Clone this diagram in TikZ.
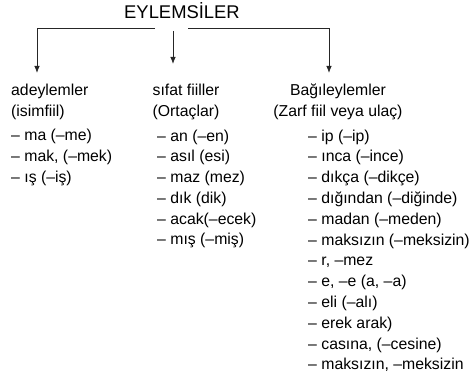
\documentclass[tikz,border=0pt]{standalone}
\usepackage{fontspec}
\setmainfont{Liberation Sans}
\usetikzlibrary{arrows.meta}
\tikzstyle{line} = [draw, -{Latex[length=7pt,width=5.5pt]}, line width=0.8pt, black!85]
\tikzstyle{txt} = [inner sep=0pt, font=\fontsize{15.8}{20.8}\selectfont]

\begin{document}
\begin{tikzpicture}[x=1pt,y=-1pt]
	\useasboundingbox (0,0) rectangle (472,385);
	% -------------- Title --------------
	\node[inner sep=0pt, anchor=base, font=\fontsize{18.4}{20}\selectfont] (eylem) at (182,19) {EYLEMSİLER};
	\coordinate (hl) at (155,28);
	\coordinate (hr) at (188,28);
	\coordinate (hm) at (173,31);
	\coordinate (aL) at (37,73);
	\coordinate (aM) at (173,64);
	\coordinate (aR) at (329,73);
	\draw[line] (hl) -| (aL);
	\draw[line] (hm) -- (aM);
	\draw[line] (hr) -| (aR);
	% -------------- adeylemler (base = last line) --------------
	\node[txt, anchor=base west, align=left] (adey) at (11,116.8) {adeylemler\\(isimfiil)};
	\node[txt, anchor=base west, align=left] (adeyl) at (11,182.6) {– ma (–me)\\– mak, (–mek)\\– ış (–iş)};
	% -------------- sifat fiiller --------------
	\node[txt, anchor=base, align=center] (sifat) at (186,116.8) {sıfat fiiller\\(Ortaçlar)};
	\node[txt, anchor=base west, align=left] (sifatl) at (157,245) {– an (–en)\\– asıl (esi)\\– maz (mez)\\– dık (dik)\\– acak(–ecek)\\– mış (–miş)};
	% -------------- Bagileylemler --------------
	\node[txt, anchor=base, align=center] (bagil) at (338,116.8) {Bağıleylemler\\(Zarf fiil veya ulaç)};
	\node[txt, anchor=base west, align=left] (bagill) at (308,369.8) {– ip (–ip)\\– ınca (–ince)\\– dıkça (–dikçe)\\– dığından (–diğinde)\\– madan (–meden)\\– maksızın (–meksizin)\\– r, –mez\\– e, –e (a, –a)\\– eli (–alı)\\– erek arak)\\– casına, (–cesine)\\– maksızın, –meksizin};
\end{tikzpicture}
\end{document}
